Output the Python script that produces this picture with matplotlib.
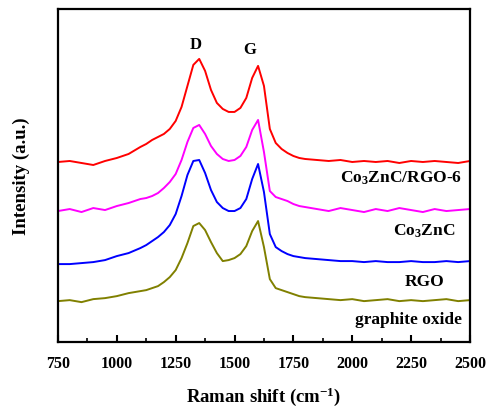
import matplotlib
matplotlib.use("Agg")
import matplotlib.pyplot as plt
from matplotlib.ticker import MultipleLocator

plt.rcParams['font.family'] = ['Liberation Serif', 'DejaVu Serif']
plt.rcParams['font.weight'] = 'bold'
plt.rcParams['mathtext.fontset'] = 'custom'
plt.rcParams['mathtext.rm'] = 'Liberation Serif:bold'
plt.rcParams['mathtext.it'] = 'Liberation Serif:bold'
plt.rcParams['mathtext.bf'] = 'Liberation Serif:bold'

# Raman shift grid (cm^-1)
raman_shift = [750, 800, 850, 900, 950, 1000, 1050, 1100,
               1125, 1150, 1175, 1200, 1225, 1250, 1275, 1300, 1325, 1350,
               1375, 1400, 1425, 1450, 1475, 1500, 1525, 1550, 1575, 1600,
               1625, 1650, 1675, 1700, 1725, 1750, 1775, 1800,
               1850, 1900, 1950, 2000, 2050, 2100, 2150, 2200, 2250, 2300,
               2350, 2400, 2450, 2500]

# Offset intensities (a.u.)
co3znc_rgo6 = [180, 181, 179, 177, 181, 184, 188, 195,
               198, 202, 205, 208, 213, 221, 235, 256, 277, 283,
               271, 252, 239, 233, 230, 230, 234, 244, 264, 276,
               256, 213, 199, 193, 189, 186, 184, 183,
               182, 181, 182, 180, 181, 180, 181, 179, 181, 180,
               181, 180, 179, 181]

co3znc = [131, 133, 130, 134, 132, 136, 139, 143,
          144, 146, 149, 154, 160, 168, 182, 200, 214, 217,
          208, 196, 188, 183, 181, 182, 186, 195, 212, 222,
          190, 151, 145, 143, 141, 138, 136, 135,
          133, 131, 134, 132, 130, 133, 131, 134, 132, 130,
          133, 131, 132, 133]

rgo = [78, 78, 79, 80, 82, 86, 89, 94,
       97, 101, 105, 110, 117, 128, 146, 167, 181, 182,
       169, 152, 140, 134, 131, 131, 134, 143, 163, 178,
       150, 108, 95, 91, 88, 86, 85, 84,
       83, 82, 81, 81, 80, 81, 80, 80, 81, 80,
       80, 81, 80, 81]

graphite_oxide = [41, 42, 40, 43, 44, 46, 49, 51,
                  52, 54, 56, 60, 65, 72, 84, 99, 116, 119,
                  112, 100, 89, 81, 82, 84, 88, 96, 111, 121,
                  95, 63, 54, 52, 50, 48, 46, 45,
                  44, 43, 42, 43, 41, 42, 43, 41, 42, 41,
                  42, 43, 41, 42]

series_names = ["Co$_3$ZnC/RGO-6", "Co$_3$ZnC", "RGO", "graphite oxide"]
series_colors = ["#ff0000", "#ff00ff", "#0000ff", "#808000"]
series_values = [co3znc_rgo6, co3znc, rgo, graphite_oxide]

fig = plt.figure(figsize=(4.87, 4.10), dpi=100)
ax = fig.add_axes([0.119, 0.163, 0.846, 0.813])

for vals, col in zip(series_values, series_colors):
    ax.plot(raman_shift, vals, color=col, lw=1.4)

ax.set_xlim(750, 2500)
ax.set_ylim(0, 333)
ax.xaxis.set_major_locator(MultipleLocator(250))
ax.xaxis.set_minor_locator(MultipleLocator(125))
ax.set_yticks([])
ax.tick_params(axis='x', which='major', direction='in', length=5, width=1.5,
               labelsize=11.5, pad=9)
ax.tick_params(axis='x', which='minor', direction='in', length=3, width=1.2)
for lbl in ax.get_xticklabels():
    lbl.set_fontweight('bold')
for s in ax.spines.values():
    s.set_linewidth(1.6)

# peak labels
ax.text(1336, 298, "D", ha='center', va='center', fontsize=12, fontweight='bold')
ax.text(1566, 293, "G", ha='center', va='center', fontsize=12, fontweight='bold')

# series labels
label_pos = [(2465, 165), (2440, 112), (2390, 61), (2465, 23)]
for name, (lx, ly) in zip(series_names, label_pos):
    ax.text(lx, ly, name, ha='right', va='center', fontsize=12.5, fontweight='bold')

ax.set_xlabel("Raman shift (cm$^{-1}$)", fontsize=13.5, fontweight='bold', labelpad=10)
ax.set_ylabel("Intensity (a.u.)", fontsize=13.5, fontweight='bold', labelpad=20)

fig.savefig("out.png", dpi=100)
